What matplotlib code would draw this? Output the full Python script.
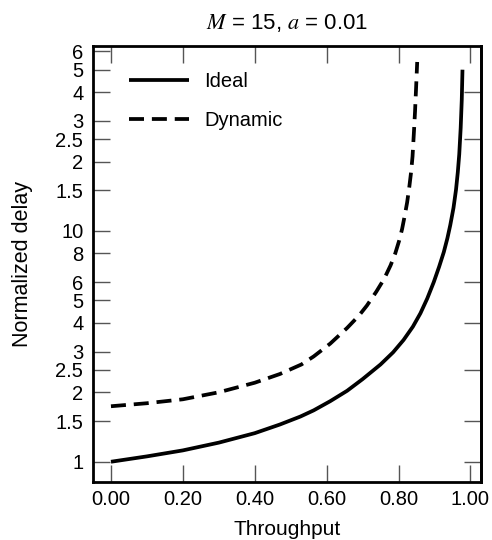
import matplotlib
matplotlib.use("Agg")
import matplotlib.pyplot as plt

plt.rcParams['font.family'] = ['Liberation Sans', 'DejaVu Sans']
plt.rcParams['mathtext.fontset'] = 'stix'

# Data
ideal_x = [0.0, 0.1, 0.2, 0.3, 0.4, 0.47, 0.527, 0.564, 0.61, 0.657, 0.70, 0.75, 0.785, 0.814, 0.84, 0.861,
           0.88, 0.898, 0.913, 0.926, 0.936, 0.944, 0.953, 0.96, 0.965, 0.969, 0.973, 0.976, 0.978]
ideal_y = [1.0, 1.055, 1.12, 1.21, 1.33, 1.45, 1.57, 1.67, 1.83, 2.03, 2.28, 2.64, 2.98, 3.37, 3.85, 4.40,
           5.1, 6.0, 7.0, 8.1, 9.3, 10.6, 12.6, 15.1, 18.0, 21.5, 28.0, 37.0, 50.0]

dyn_x = [0.0, 0.1, 0.2, 0.3, 0.4, 0.47, 0.53, 0.564, 0.61, 0.657, 0.69, 0.712, 0.738, 0.76, 0.778, 0.791,
         0.802, 0.81, 0.818, 0.824, 0.83, 0.835, 0.839, 0.843, 0.846, 0.849, 0.852]
dyn_y = [1.74, 1.793, 1.865, 2.0, 2.2, 2.4, 2.64, 2.86, 3.25, 3.8, 4.3, 4.75, 5.45, 6.2, 7.1, 8.0,
         9.1, 10.2, 11.8, 13.3, 15.5, 18.0, 21.0, 27.0, 33.0, 42.0, 54.0]

x_ticks = [0.0, 0.2, 0.4, 0.6, 0.8, 1.0]
x_labels = ['0.00', '0.20', '0.40', '0.60', '0.80', '1.00']
y_ticks = [1, 1.5, 2, 2.5, 3, 4, 5, 6, 8, 10, 15, 20, 25, 30, 40, 50, 60]
y_labels = ['1', '1.5', '2', '2.5', '3', '4', '5', '6', '8', '10', '1.5', '2', '2.5', '3', '4', '5', '6']
right_ticks = [1, 1.5, 2.5, 4, 6, 10, 15, 25, 40]

fig = plt.figure(figsize=(4.92, 5.40), dpi=100)
ax = fig.add_axes([0.189, 0.1074, 0.789, 0.8076])

ax.plot(ideal_x, ideal_y, color='black', lw=2.7, label='Ideal', solid_capstyle='butt',
        solid_joinstyle='round')
ax.plot(dyn_x, dyn_y, color='black', lw=2.7, dashes=(4.0, 2.1), label='Dynamic',
        dash_capstyle='butt', dash_joinstyle='round')

ax.set_yscale('log')
ax.set_xlim(-0.05, 1.03)
ax.set_ylim(0.817, 63.4)
ax.set_xticks(x_ticks)
ax.set_xticklabels(x_labels)
ax.set_yticks(y_ticks)
ax.set_yticklabels(y_labels)
ax.minorticks_off()

tick_color = '#555555'
ax.tick_params(direction='in', length=12, width=1.0, color=tick_color, labelsize=14.5,
               top=True, right=False)
ax.tick_params(axis='y', pad=7)
ax.tick_params(axis='x', pad=6)
for s in ax.spines.values():
    s.set_linewidth(2.0)

sec = ax.secondary_yaxis('right')
sec.set_yticks(right_ticks)
sec.set_yticklabels([])
sec.minorticks_off()
sec.tick_params(direction='in', length=12, width=1.0, color=tick_color)
sec.spines['right'].set_linewidth(2.0)

ax.set_xlabel('Throughput', fontsize=15, labelpad=7.5)
ax.set_ylabel('Normalized delay', fontsize=15.5, labelpad=16)
ax.set_title(r'$M$ = 15, $a$ = 0.01', fontsize=16, pad=12)

ax.legend(loc='upper left', frameon=False, fontsize=14.5, handlelength=3.0,
          handletextpad=0.75, labelspacing=1.0, bbox_to_anchor=(0.072, 0.958),
          borderaxespad=0.0)

fig.savefig('out.png', dpi=100)
